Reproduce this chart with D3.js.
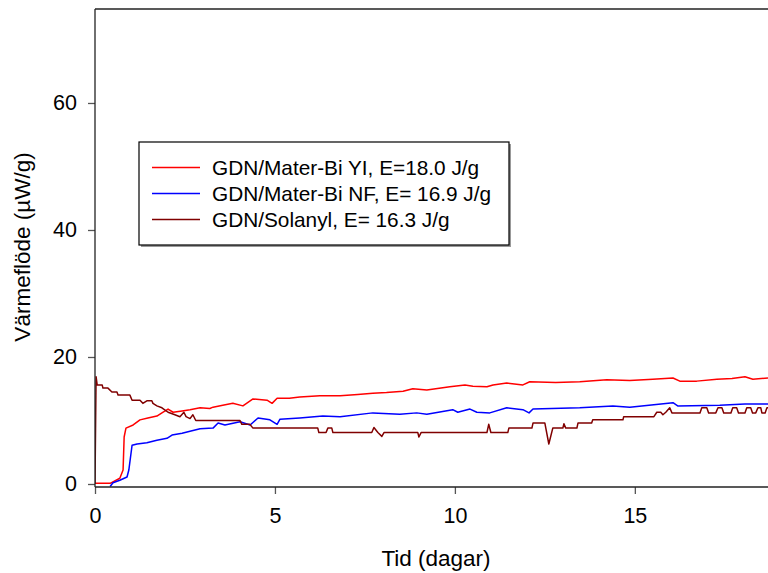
<!DOCTYPE html>
<html><head><meta charset="utf-8">
<script src="https://cdn.jsdelivr.net/npm/d3@7"></script>
<style>body{margin:0;background:#fff}svg{display:block}text{font-family:Arial,"Liberation Sans",sans-serif}</style>
</head><body>
<svg id="c" width="768" height="573"></svg>
<script>
const seriesNames = ["GDN/Mater-Bi YI, E=18.0 J/g","GDN/Mater-Bi NF, E= 16.9 J/g","GDN/Solanyl, E= 16.3 J/g"];
const seriesColors = ["#ff0000","#0000ff","#800000"];
const xTicks = [0,5,10,15];
const yTicks = [0,20,40,60];

const redData = [[0,0.1],[0.42,0.1],[0.69,0.9],[0.78,2.2],[0.81,7.4],[0.86,8.8],[1.06,9.3],[1.25,10.1],[1.47,10.4],[1.72,10.7],[1.86,11.2],[2.03,11.8],[2.17,11.3],[2.42,11.5],[2.64,11.7],[2.92,12.0],[3.19,11.9],[3.28,12.1],[3.55,12.4],[3.83,12.7],[4.11,12.3],[4.39,13.4],[4.78,13.2],[4.92,12.7],[5.06,13.5],[5.4,13.5],[5.69,13.7],[6.25,13.9],[6.81,13.9],[7.3,14.1],[7.72,14.3],[8.1,14.4],[8.56,14.6],[8.83,15.0],[9.22,14.8],[9.86,15.3],[10.28,15.6],[10.5,15.4],[10.89,15.3],[11.06,15.6],[11.44,15.9],[11.89,15.6],[12.08,16.1],[12.8,16.0],[13.47,16.1],[14.22,16.4],[14.86,16.3],[15.5,16.5],[16.06,16.7],[16.25,16.2],[16.72,16.2],[17.28,16.5],[17.7,16.6],[18.06,16.9],[18.28,16.5],[18.7,16.7]];

const blueData = [[0.42,-0.4],[0.5,0.2],[0.69,0.6],[0.89,1.1],[0.94,2.2],[1.03,6.1],[1.17,6.3],[1.44,6.5],[1.72,6.9],[2.0,7.2],[2.14,7.7],[2.42,8.0],[2.64,8.3],[2.92,8.7],[3.28,8.8],[3.42,9.6],[3.61,9.3],[4.03,9.8],[4.31,9.3],[4.53,10.4],[4.86,10.1],[5.06,9.4],[5.14,10.2],[5.69,10.4],[6.33,10.7],[6.81,10.6],[7.72,11.2],[8.47,11.0],[8.94,11.2],[9.22,11.0],[9.94,11.7],[10.08,11.3],[10.42,11.8],[10.61,11.3],[10.97,11.2],[11.44,12.0],[11.89,11.7],[12.06,11.2],[12.17,11.8],[13.47,12.0],[14.39,12.3],[14.86,12.1],[16.06,12.8],[16.19,12.3],[17.36,12.4],[18.06,12.6],[18.7,12.6]];

const solanylData = [[0,0],[0.03,16.9],[0.06,15.6],[0.2,15.6],[0.22,15.1],[0.36,15.1],[0.47,14.5],[0.61,14.5],[0.64,14.0],[0.97,14.0],[1.03,13.2],[1.25,13.2],[1.33,12.7],[1.44,13.1],[1.58,13.1],[1.61,12.7],[1.72,12.3],[1.86,12.0],[2.03,11.3],[2.22,10.9],[2.36,10.6],[2.47,11.3],[2.53,10.6],[2.64,10.3],[2.72,10.9],[2.8,10.0],[4.03,10.0],[4.08,9.4],[4.3,9.4],[4.39,8.8],[6.19,8.8],[6.22,8.1],[6.42,8.1],[6.47,8.8],[6.58,8.8],[6.61,8.1],[7.69,8.1],[7.75,8.9],[7.86,8.1],[7.97,7.5],[8.03,8.1],[8.97,8.1],[9.0,7.4],[9.06,8.1],[10.89,8.1],[10.94,9.4],[11.0,8.1],[11.47,8.1],[11.5,8.8],[12.14,8.8],[12.17,9.6],[12.5,9.6],[12.61,6.3],[12.72,8.8],[13.0,8.8],[13.03,9.5],[13.08,8.8],[13.39,8.8],[13.42,9.6],[13.8,9.6],[13.83,10.1],[14.67,10.1],[14.69,10.6],[15.53,10.6],[15.61,11.3],[15.72,11.3],[15.78,10.9],[15.86,11.3],[15.97,12.0],[16.03,11.2],[16.81,11.2],[16.86,12.0],[17.0,12.0],[17.05,11.2],[17.25,11.2],[17.31,12.0],[17.42,12.0],[17.47,11.2],[17.67,11.2],[17.72,12.0],[17.83,12.0],[17.88,11.2],[18.06,11.2],[18.11,12.0],[18.22,12.0],[18.27,11.2],[18.36,11.2],[18.42,12.0],[18.5,12.0],[18.53,11.2],[18.62,11.2],[18.67,12.0],[18.7,12.0]];

const allSeries = [redData, blueData, solanylData];

const svg = d3.select("#c");
const pLeft = 95, pRight = 768, pTop = 9, pBottom = 484;
const x = d3.scaleLinear().domain([0,18.7]).range([pLeft,pRight]);
const y = d3.scaleLinear().domain([0,74.8]).range([pBottom,pTop]);

svg.append("defs").append("clipPath").attr("id","clip")
  .append("rect").attr("x",pLeft).attr("y",pTop).attr("width",pRight-pLeft).attr("height",487-pTop);

const line = d3.line().x(d=>x(d[0])).y(d=>y(d[1]));
const g = svg.append("g").attr("clip-path","url(#clip)");
allSeries.forEach((s,i)=>{
  g.append("path").datum(s).attr("d",line).attr("fill","none")
    .attr("stroke",seriesColors[i]).attr("stroke-width",1.5).attr("stroke-linejoin","round");
});

const yAxis = svg.append("g").attr("transform",`translate(${pLeft},0)`)
  .call(d3.axisLeft(y).tickValues(yTicks).tickSize(7).tickPadding(11).tickFormat(d3.format("d")));
const xAxis = svg.append("g").attr("transform",`translate(0,487)`)
  .call(d3.axisBottom(x).tickValues(xTicks).tickSize(7).tickPadding(14).tickFormat(d3.format("d")));
[yAxis,xAxis].forEach(a=>{
  a.select(".domain").remove();
  a.selectAll(".tick line").attr("stroke","#555").attr("stroke-width",1.3);
  a.selectAll(".tick text").attr("font-size",21.5).attr("fill","#000").attr("font-family","Arial,'Liberation Sans',sans-serif");
});
svg.append("line").attr("x1",pLeft).attr("x2",pLeft).attr("y1",pTop).attr("y2",487).attr("stroke","#222").attr("stroke-width",1.3);
svg.append("line").attr("x1",pLeft).attr("x2",pRight).attr("y1",487).attr("y2",487).attr("stroke","#222").attr("stroke-width",1.3);
svg.append("line").attr("x1",pLeft).attr("x2",pRight).attr("y1",pTop).attr("y2",pTop).attr("stroke","#222").attr("stroke-width",1.3);

svg.append("text").attr("transform","translate(30,247) rotate(-90)").attr("text-anchor","middle")
  .attr("font-size",22.5).text("Värmeflöde (µW/g)");
svg.append("text").attr("x",436).attr("y",566).attr("text-anchor","middle")
  .attr("font-size",22.5).text("Tid (dagar)");

const lg = svg.append("g");
lg.append("rect").attr("x",141).attr("y",144).attr("width",370).attr("height",103).attr("fill","#999");
lg.append("rect").attr("x",139).attr("y",142).attr("width",370).attr("height",103).attr("fill","#fff").attr("stroke","#000").attr("stroke-width",1.2);
seriesNames.forEach((n,i)=>{
  const yy = 167.5 + i*26;
  lg.append("line").attr("x1",152).attr("x2",200).attr("y1",yy).attr("y2",yy).attr("stroke",seriesColors[i]).attr("stroke-width",1.5);
  lg.append("text").attr("x",212).attr("y",yy+7.5).attr("font-size",20.8).text(n);
});
</script>
</body></html>
